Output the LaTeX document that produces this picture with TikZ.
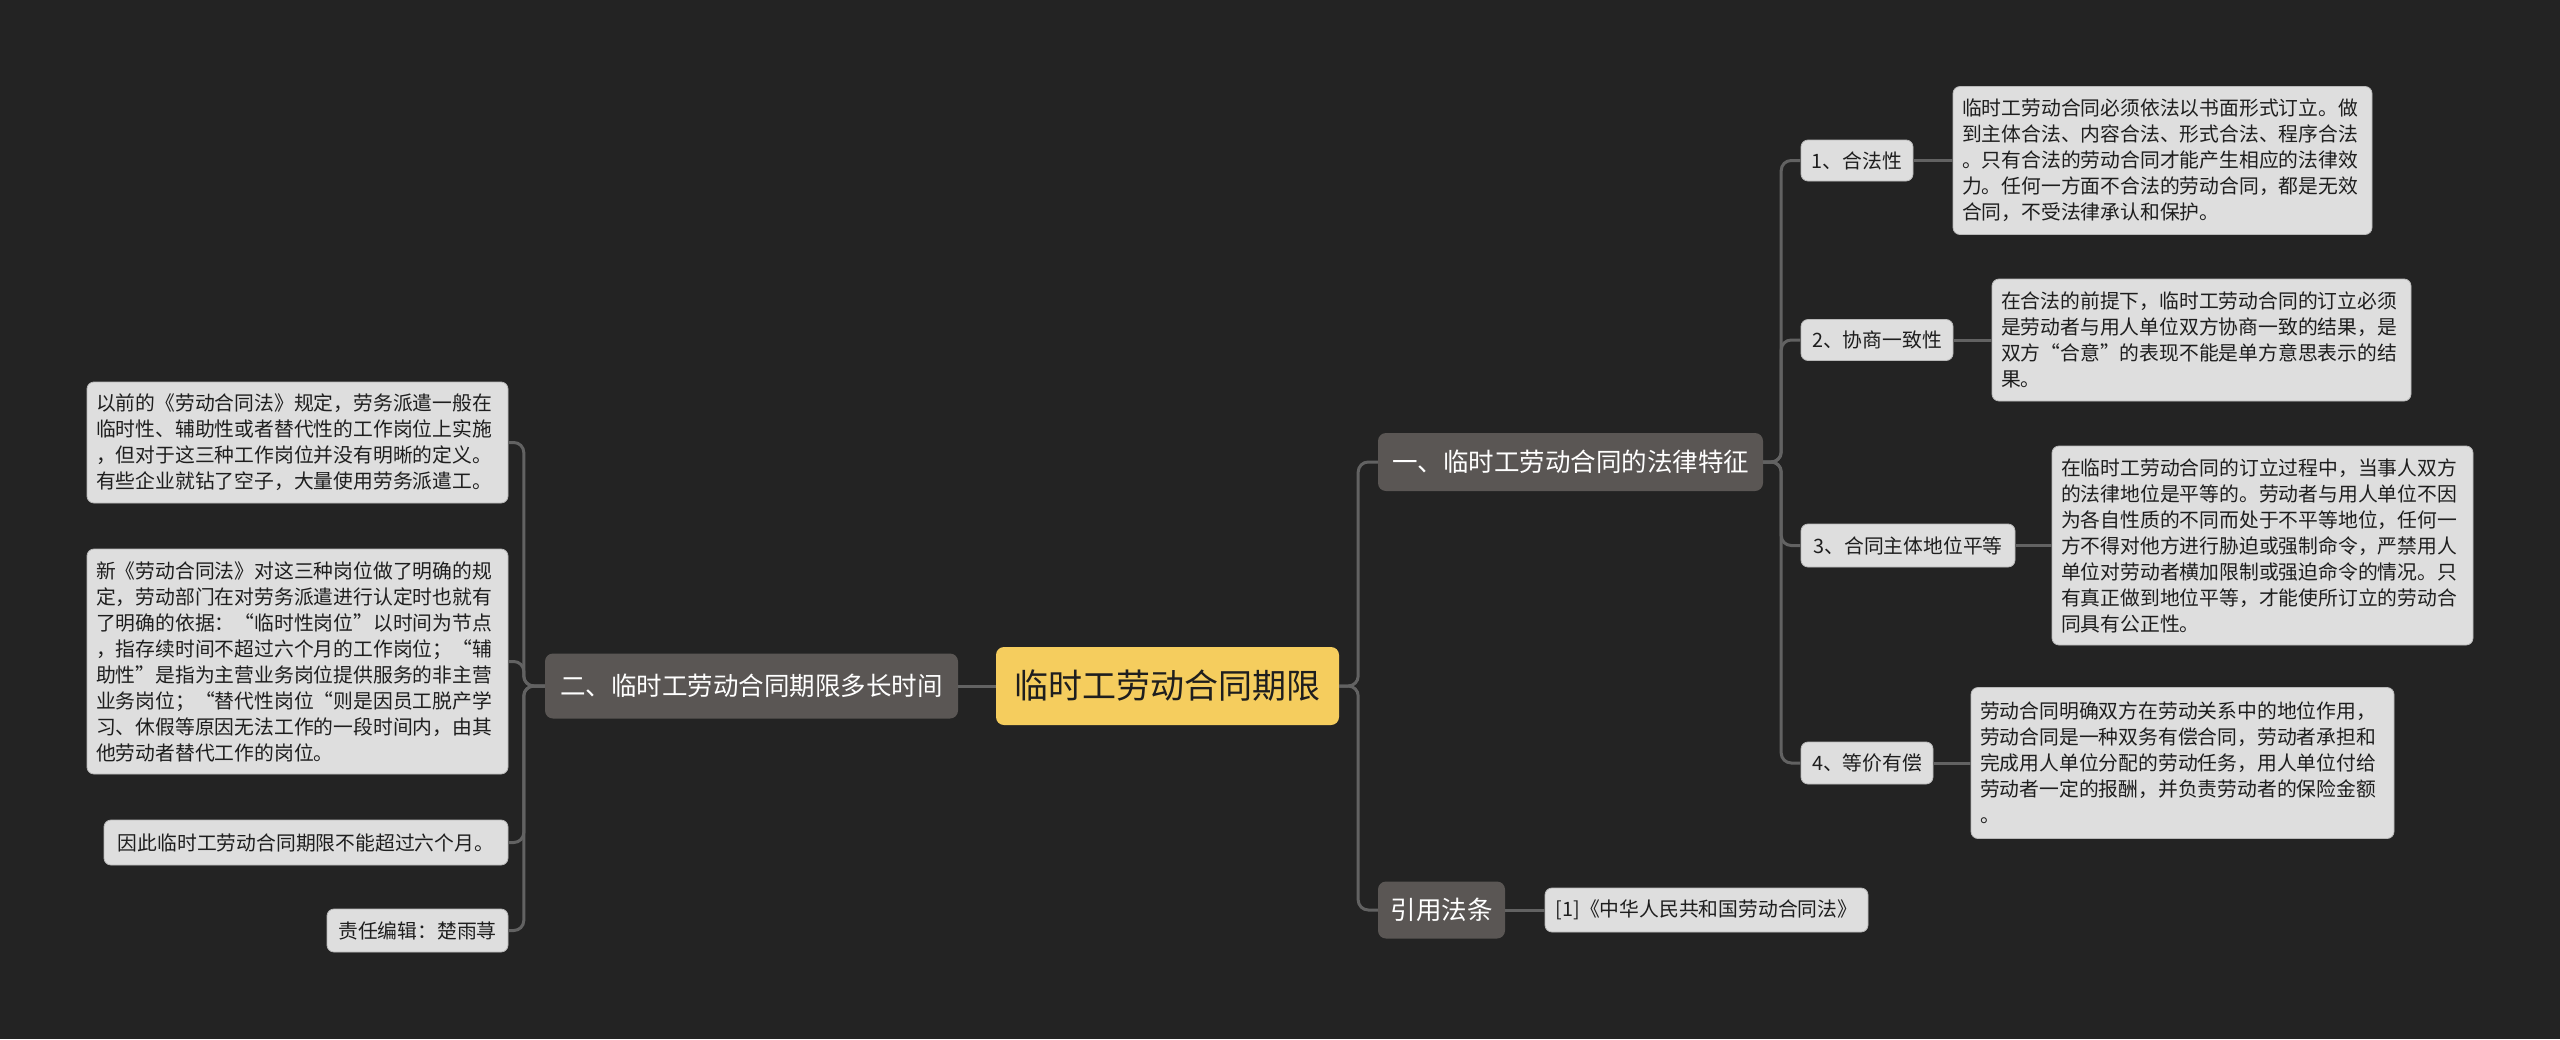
\documentclass[tikz,border=0pt]{standalone}
\usepackage{fontspec}
\setmainfont{Noto Sans CJK SC}
\definecolor{bgc}{HTML}{232323}
\definecolor{leafc}{HTML}{DEDEDE}
\definecolor{leafb}{HTML}{B8B8B8}
\definecolor{leaft}{HTML}{1E1E1E}
\definecolor{branchc}{HTML}{5A5654}
\definecolor{centc}{HTML}{F5CD5E}
\definecolor{connc}{HTML}{626262}
\begin{document}
\begin{tikzpicture}[x=1pt,y=-1pt,
  conn/.style={draw=connc,line width=3pt,rounded corners=10pt},
  leaf/.style={fill=leafc,draw=leafb,line width=0.8pt,rounded corners=7pt,text=leaft,
    font=\fontsize{19.8}{26}\selectfont,align=left,inner xsep=9pt,inner ysep=0pt,anchor=center},
  sub/.style={fill=leafc,draw=leafb,line width=0.8pt,rounded corners=7pt,text=leaft,
    font=\fontsize{19.8}{24}\selectfont,inner sep=0pt,anchor=center},
  branch/.style={fill=branchc,rounded corners=8pt,text=white,
    font=\fontsize{25.5}{30}\selectfont,inner sep=0pt,anchor=center},
  central/.style={fill=centc,rounded corners=8pt,text=leaft,
    font=\fontsize{34}{38}\selectfont,inner sep=0pt,anchor=center}]
\useasboundingbox (0,0) rectangle (2560,1039);
\fill[bgc] (0,0) rectangle (2560,1039);

% central
\node[central,minimum width=343pt,minimum height=78pt] (cen) at (1167.5,686) {临时工劳动合同期限};

% branches
\node[branch,minimum width=413pt,minimum height=65pt] (b2) at (751.5,686) {二、临时工劳动合同期限多长时间};
\node[branch,minimum width=385pt,minimum height=58pt] (b1) at (1570.5,462) {一、临时工劳动合同的法律特征};
\node[branch,minimum width=127pt,minimum height=57pt] (b3) at (1441.5,910) {引用法条};

% level 2 right
\node[sub,minimum width=112pt,minimum height=41pt] (c1) at (1857,160.5) {1、合法性};
\node[sub,minimum width=152pt,minimum height=41pt] (c2) at (1877,340) {2、协商一致性};
\node[sub,minimum width=214pt,minimum height=43pt] (c3) at (1908,545.5) {3、合同主体地位平等};
\node[sub,minimum width=132pt,minimum height=42pt] (c4) at (1867,763) {4、等价有偿};

% leaves right
\node[leaf,text width=401pt,minimum height=148pt] (d1) at (2162.5,160.5) {临时工劳动合同必须依法以书面形式订立。做\\到主体合法、内容合法、形式合法、程序合法\\。只有合法的劳动合同才能产生相应的法律效\\力。任何一方面不合法的劳动合同，都是无效\\合同，不受法律承认和保护。};
\node[leaf,text width=401pt,minimum height=122pt] (d2) at (2201.5,340) {在合法的前提下，临时工劳动合同的订立必须\\是劳动者与用人单位双方协商一致的结果，是\\双方“合意”的表现不能是单方意思表示的结\\果。};
\node[leaf,text width=403pt,minimum height=199pt] (d3) at (2262.5,545.5) {在临时工劳动合同的订立过程中，当事人双方\\的法律地位是平等的。劳动者与用人单位不因\\为各自性质的不同而处于不平等地位，任何一\\方不得对他方进行胁迫或强制命令，严禁用人\\单位对劳动者横加限制或强迫命令的情况。只\\有真正做到地位平等，才能使所订立的劳动合\\同具有公正性。};
\node[leaf,text width=405pt,minimum height=151pt] (d4) at (2182.5,763) {劳动合同明确双方在劳动关系中的地位作用，\\劳动合同是一种双务有偿合同，劳动者承担和\\完成用人单位分配的劳动任务，用人单位付给\\劳动者一定的报酬，并负责劳动者的保险金额\\。};
\node[sub,minimum width=323pt,minimum height=44pt] (e1) at (1706.5,910) {[1]《中华人民共和国劳动合同法》};

% leaves left
\node[leaf,text width=403pt,minimum height=121pt] (l1) at (297.5,442.5) {以前的《劳动合同法》规定，劳务派遣一般在\\临时性、辅助性或者替代性的工作岗位上实施\\，但对于这三种工作岗位并没有明晰的定义。\\有些企业就钻了空子，大量使用劳务派遣工。};
\node[leaf,text width=403pt,minimum height=225pt] (l2) at (297.5,661.5) {新《劳动合同法》对这三种岗位做了明确的规\\定，劳动部门在对劳务派遣进行认定时也就有\\了明确的依据：“临时性岗位”以时间为节点\\，指存续时间不超过六个月的工作岗位；“辅\\助性”是指为主营业务岗位提供服务的非主营\\业务岗位；“替代性岗位“则是因员工脱产学\\习、休假等原因无法工作的一段时间内，由其\\他劳动者替代工作的岗位。};
\node[sub,minimum width=404pt,minimum height=45pt] (l3) at (306,842.5) {因此临时工劳动合同期限不能超过六个月。};
\node[sub,minimum width=181pt,minimum height=43pt] (l4) at (417.5,930.5) {责任编辑：楚雨荨};

% connectors
\draw[conn] (cen.west) -- (b2.east);
\draw[conn] (cen.east) -- ++(19,0) |- (b1.west);
\draw[conn] (cen.east) -- ++(19,0) |- (b3.west);
\foreach \c in {c1,c2,c3,c4} \draw[conn] (b1.east) -- ++(18,0) |- (\c.west);
\draw[conn] (c1.east) -- (d1.west);
\draw[conn] (c2.east) -- (d2.west);
\draw[conn] (c3.east) -- (d3.west);
\draw[conn] (c4.east) -- (d4.west);
\draw[conn] (b3.east) -- (e1.west);
\foreach \l in {l1,l2,l3,l4} \draw[conn] (b2.west) -- ++(-21,0) |- (\l.east);
\end{tikzpicture}
\end{document}
